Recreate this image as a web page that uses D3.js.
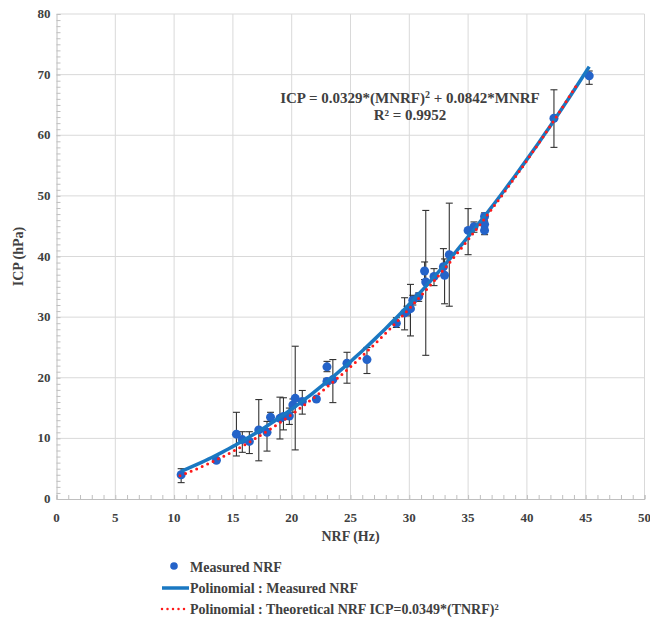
<!DOCTYPE html>
<html><head><meta charset="utf-8">
<script src="https://cdn.jsdelivr.net/npm/d3@7"></script>
<style>
html,body{margin:0;padding:0;background:#fff;}
svg text{font-family:"Liberation Serif","Times New Roman",serif;font-weight:bold;fill:#404040;}
</style></head>
<body><svg id="c" width="650" height="617"></svg>
<script>
// Measured NRF (Hz) and ICP (hPa), with error bar ends
const nrf  = [10.6,13.6,15.3,15.8,16.4,17.2,17.9,18.2,19.0,19.3,19.8,20.1,20.3,20.9,22.1,23.0,23.0,23.5,24.7,26.4,28.9,29.6,29.8,30.1,30.3,30.8,31.3,31.4,32.1,32.9,33.0,33.4,35.0,35.5,36.4,36.4,36.4,42.3,45.3];
const icp  = [4.0,6.4,10.7,9.8,9.5,11.4,11.0,13.5,13.3,13.6,13.7,15.5,16.6,16.1,16.5,21.8,19.4,19.7,22.4,23.0,29.0,30.7,31.0,31.4,32.8,33.4,37.6,35.8,36.7,38.3,36.9,40.3,44.3,44.9,46.6,45.3,44.3,62.8,69.8];
const errLow  = [2.7,6.4,7.1,7.7,7.5,6.3,7.9,12.8,9.9,11.4,12.3,14.3,8.1,14.0,16.5,21.0,18.9,15.9,19.1,20.7,28.3,27.9,30.2,26.9,32.0,32.6,36.2,23.7,35.2,36.9,32.2,31.8,40.3,44.0,46.0,44.8,43.6,58.0,68.4];
const errHigh = [5.0,6.4,14.3,11.1,11.1,16.4,12.8,14.3,16.8,16.7,15.0,16.5,25.2,17.9,16.5,22.7,19.9,23.0,24.2,25.0,29.9,33.2,31.8,35.4,33.6,34.0,39.1,47.6,38.0,41.3,39.6,48.8,47.9,45.7,47.2,45.8,45.0,67.5,70.6];
// Trendline coefficients shown on the chart [a2, a1]
const measuredFit = [0.0329, 0.0842];
const theoreticalFit = [0.0349, 0];
const measuredRange = [10.6, 45.3];
const theoreticalRange = [10.5, 44.4];
const xTicks = [0,5,10,15,20,25,30,35,40,45,50];
const yTicks = [0,10,20,30,40,50,60,70,80];

const svg = d3.select("#c");
const L=56.5, R=644.5, T=14, B=499;
const x = d3.scaleLinear().domain([0,50]).range([L,R]);
const y = d3.scaleLinear().domain([0,80]).range([B,T]);

// gridlines
svg.append("g").selectAll("line").data(xTicks.slice(1)).join("line")
  .attr("x1",d=>x(d)).attr("x2",d=>x(d)).attr("y1",T).attr("y2",B)
  .attr("stroke","#d9d9d9").attr("stroke-width",1);
svg.append("g").selectAll("line").data(yTicks.slice(1)).join("line")
  .attr("x1",L).attr("x2",R).attr("y1",d=>y(d)).attr("y2",d=>y(d))
  .attr("stroke","#d9d9d9").attr("stroke-width",1);

// axes with minor ticks inside
const xMinor = d3.range(0,51,1), yMinor = d3.range(0,81,1);
const gx = svg.append("g").attr("transform",`translate(0,${B})`)
  .call(d3.axisTop(x).tickValues(xMinor).tickSize(4).tickFormat(""));
const gy = svg.append("g").attr("transform",`translate(${L},0)`)
  .call(d3.axisRight(y).tickValues(yMinor).tickSize(4).tickFormat(""));
[gx,gy].forEach(g=>{g.selectAll("path").attr("stroke","#bfbfbf");g.selectAll("line").attr("stroke","#bfbfbf");});

// tick labels
svg.append("g").selectAll("text").data(xTicks).join("text")
  .attr("x",d=>x(d)).attr("y",B+23).attr("text-anchor","middle")
  .attr("font-size",13).text(d=>d);
svg.append("g").selectAll("text").data(yTicks).join("text")
  .attr("x",L-6).attr("y",d=>y(d)+4).attr("text-anchor","end")
  .attr("font-size",13).text(d=>d);

// axis titles
svg.append("text").attr("x",(L+R)/2).attr("y",541).attr("text-anchor","middle")
  .attr("font-size",14).text("NRF (Hz)");
svg.append("text").attr("transform",`translate(23,${(T+B)/2}) rotate(-90)`)
  .attr("text-anchor","middle").attr("font-size",14).text("ICP (hPa)");

// error bars
const eb = svg.append("g").attr("stroke","#333").attr("stroke-width",1.1);
nrf.forEach((v,i)=>{
  if (errHigh[i]-errLow[i] < 0.01) return;
  eb.append("line").attr("x1",x(v)).attr("x2",x(v)).attr("y1",y(errLow[i])).attr("y2",y(errHigh[i]));
  eb.append("line").attr("x1",x(v)-3.5).attr("x2",x(v)+3.5).attr("y1",y(errLow[i])).attr("y2",y(errLow[i]));
  eb.append("line").attr("x1",x(v)-3.5).attr("x2",x(v)+3.5).attr("y1",y(errHigh[i])).attr("y2",y(errHigh[i]));
});

// points
svg.append("g").selectAll("circle").data(nrf).join("circle")
  .attr("cx",d=>x(d)).attr("cy",(d,i)=>y(icp[i])).attr("r",4.5).attr("fill","#2463c9");

// trendlines
const line = d3.line().x(d=>x(d[0])).y(d=>y(d[1])).curve(d3.curveLinear);
function curve(c, r){ const pts=[]; const n=120; for(let k=0;k<=n;k++){const t=r[0]+(r[1]-r[0])*k/n; pts.push([t,c[0]*t*t+c[1]*t]);} return pts; }
svg.append("path").attr("d",line(curve(measuredFit,measuredRange)))
  .attr("fill","none").attr("stroke","#1a78c2").attr("stroke-width",3.5);
svg.append("path").attr("d",line(curve(theoreticalFit,theoreticalRange)))
  .attr("fill","none").attr("stroke","#ff1a1a").attr("stroke-width",3)
  .attr("stroke-linecap","round").attr("stroke-dasharray","0,6");

// equation
const eq = svg.append("text").attr("x",410).attr("y",103).attr("text-anchor","middle").attr("font-size",15);
eq.append("tspan").text("ICP = 0.0329*(MNRF)");
eq.append("tspan").attr("dy",-5).attr("font-size",10).text("2");
eq.append("tspan").attr("dy",5).text(" + 0.0842*MNRF");
svg.append("text").attr("x",410).attr("y",120).attr("text-anchor","middle").attr("font-size",15).text("R² = 0.9952");

// legend
const lg = svg.append("g");
lg.append("circle").attr("cx",174).attr("cy",566).attr("r",3.8).attr("fill","#2463c9");
lg.append("text").attr("x",190).attr("y",572).attr("font-size",14).text("Measured NRF");
lg.append("line").attr("x1",162).attr("x2",189).attr("y1",588).attr("y2",588).attr("stroke","#1a78c2").attr("stroke-width",3.5);
lg.append("text").attr("x",190).attr("y",593).attr("font-size",14).text("Polinomial : Measured NRF");
lg.append("line").attr("x1",162).attr("x2",189).attr("y1",609).attr("y2",609).attr("stroke","#ff1a1a").attr("stroke-width",2.5)
  .attr("stroke-linecap","round").attr("stroke-dasharray","0,5.5");
lg.append("text").attr("x",190).attr("y",614).attr("font-size",14).text("Polinomial : Theoretical NRF ICP=0.0349*(TNRF)²");
</script></body></html>
